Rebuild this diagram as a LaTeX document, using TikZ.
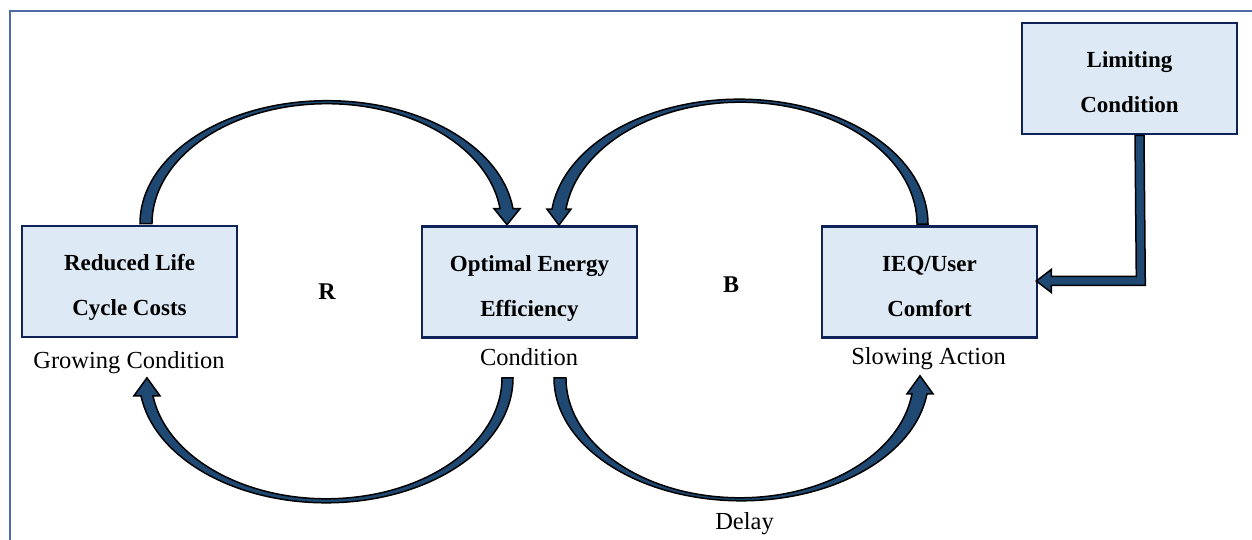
\documentclass[tikz,border=0pt]{standalone}
\usepackage{fontspec}
\setmainfont{Liberation Serif}
\usetikzlibrary{calc}
\definecolor{framecol}{RGB}{79,108,165}
\definecolor{boxfill}{RGB}{222,233,246}
\definecolor{boxline}{RGB}{14,36,88}
\definecolor{arrowfill}{RGB}{31,73,115}
% two centred lines, 45pt apart, set a little below the box centre
\newcommand\stocklines[2]{\raisebox{-9pt}[45pt][45pt]{\begin{tabular}{@{}c@{}}#1\\#2\end{tabular}}}
\tikzset{
  x=1pt, y=1pt,
  stockbox/.style={draw=boxline, line width=2.6pt, fill=boxfill, inner sep=0pt,
    minimum width=215pt, minimum height=111pt,
    font=\fontsize{23}{45}\selectfont\bfseries},
  caption/.style={inner sep=0pt, anchor=base, font=\fontsize{24.5}{27}\selectfont},
  looplabel/.style={inner sep=0pt, anchor=base, font=\fontsize{24}{27}\selectfont\bfseries},
  band/.style={fill=arrowfill, draw=black, line width=1.5pt, line join=miter}
}
\begin{document}
\begin{tikzpicture}
\useasboundingbox (0,0) rectangle (1252,540);
% page frame (top and left rules only)
\draw[framecol, line width=1.5pt] (10,0) -- (10,529) -- (1252,529);

% stocks
\node[stockbox] (rlc) at (129.5,258.5) {\stocklines{Reduced Life}{Cycle Costs}};
\node[stockbox] (oee) at (529.5,258)   {\stocklines{Optimal Energy}{Efficiency}};
\node[stockbox] (ieq) at (929.5,258)   {\stocklines{IEQ/User}{Comfort}};
\node[stockbox] (lim) at (1129.5,461.5) {\stocklines{Limiting}{Condition}};

% captions
\node[caption] (capg) at (129,171.5) {Growing Condition};
\node[caption] (capc) at (529,174.5) {Condition};
\node[caption] (caps) at (928.5,175.5) {Slowing Action};
\node[caption] (capd) at (744.5,10.5) {Delay};
\node[looplabel] (loopr) at (327,240) {R};
\node[looplabel] (loopb) at (731,247) {B};

% reinforcing loop, upper arc: life cycle costs -> energy efficiency
\draw[band] ($(rlc.north)+(10.5,1)$)
  arc[start angle=180, end angle=7, x radius=187.2, y radius=123]
  -- ++(7,0) -- ++(-13,-16) -- ++(-13,16) -- ++(6,0)
  arc[start angle=7.18, end angle=180, x radius=174.7, y radius=120] -- cycle;

% balancing loop, upper arc: comfort -> energy efficiency
\draw[band] ($(ieq.north)+(-1.5,1)$)
  arc[start angle=0, end angle=173.1, x radius=188.7, y radius=125]
  -- ++(-5,0) -- ++(12,-16) -- ++(12,16) -- ++(-5,0)
  arc[start angle=172.93, end angle=0, x radius=176.2, y radius=122] -- cycle;

% reinforcing loop, lower arc: energy efficiency -> life cycle costs
\draw[band] ($(oee.south)+(-16.5,-39)$)
  arc[start angle=0, end angle=-171.72, x radius=187, y radius=125]
  -- ++(-7,0) -- ++(13,18) -- ++(13,-18) -- ++(-7,0)
  arc[start angle=-171.44, end angle=0, x radius=175.5, y radius=121] -- cycle;

% balancing loop, lower arc (delayed): energy efficiency -> comfort
\draw[band] ($(oee.south)+(24.5,-39)$)
  arc[start angle=180, end angle=352.53, x radius=187.3, y radius=123]
  -- ++(6,0) -- ++(-13,18) -- ++(-13,-18) -- ++(5,0)
  arc[start angle=352.34, end angle=180, x radius=173.8, y radius=120] -- cycle;

% limiting condition -> comfort
\coordinate (tipL) at ($(ieq.east)+(-2,1)$);
\draw[band] ($(lim.south)+(5.5,0)$) -- ++(9,0)
  -- ($(tipL)+(109,-4.5)$) -- ($(tipL)+(15,-4.5)$) -- ($(tipL)+(15,-11.5)$)
  -- (tipL) -- ($(tipL)+(15,11.5)$) -- ($(tipL)+(15,4.5)$)
  -- ($(tipL)+(100,4.5)$) -- cycle;
\end{tikzpicture}
\end{document}
